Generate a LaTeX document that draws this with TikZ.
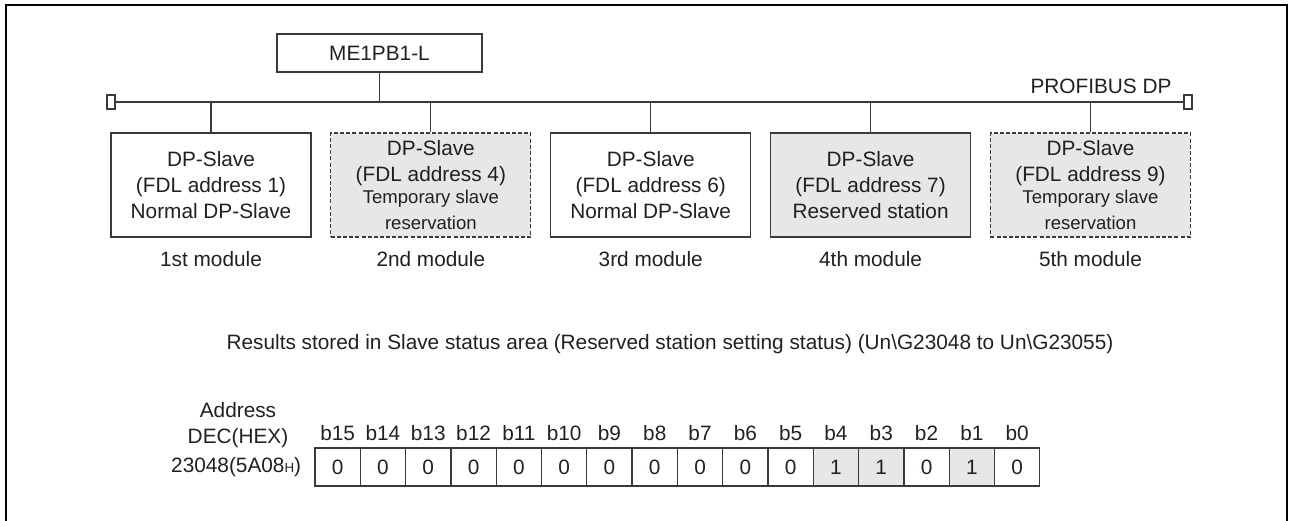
\documentclass[tikz,border=0pt]{standalone}
\usepackage{fontspec}
\setmainfont{Liberation Sans}
\usetikzlibrary{positioning}
\definecolor{ink}{HTML}{231F20}
\definecolor{wirecol}{HTML}{3A3A3A}
\definecolor{shade}{HTML}{E6E7E8}
\newcommand{\smallfont}{\fontsize{13.9}{16.5}\selectfont}

\begin{document}
\begin{tikzpicture}[
    x=0.75pt, y=-0.75pt,
    every node/.style={text=ink, font=\fontsize{15.6}{19.5}\selectfont},
    master/.style={rectangle, draw=wirecol, line width=0.9pt, minimum width=153.75pt, minimum height=28.5pt},
    slave/.style={rectangle, draw=wirecol, line width=0.9pt, minimum width=150pt, minimum height=78pt, align=center, inner sep=0pt},
    reserved/.style={slave, fill=shade},
    temporary/.style={slave, fill=shade, dash pattern=on 3pt off 1.6pt},
    term/.style={rectangle, draw=wirecol, line width=0.8pt, minimum width=6pt, minimum height=10.5pt, inner sep=0pt},
    link/.style={draw=wirecol, line width=0.9pt},
    lbl/.style={inner sep=0pt},
    bitcell/.style={rectangle, draw=wirecol, line width=0.9pt, minimum width=34pt, minimum height=28.5pt, inner sep=0pt},
    setbit/.style={bitcell, fill=shade}
]
\useasboundingbox (0,0) rectangle (1292,521);
% frame
\draw[line width=1.9pt] (6,521) -- (6,5) -- (1287,5) -- (1287,521);

% network
\node[master] (me) at (379.5,53) {ME1PB1-L};
\node[term] (termL) at (111,102) {};
\node[term] (termR) at (1188,102) {};
\draw[link] (termL.east) -- (termR.west);
\draw[link] (me.south) -- (me.south |- termL.center);
\node[lbl] (busname) at (1101,86) {PROFIBUS DP};

% slaves
\node[slave] (mod1) at (211,185) {DP-Slave\\(FDL address 1)\\Normal DP-Slave};
\node[temporary, right=14pt of mod1] (mod2) {DP-Slave\\(FDL address 4)\\[-3pt]{\smallfont Temporary slave}\\{\smallfont reservation}};
\node[slave, right=14pt of mod2] (mod3) {DP-Slave\\(FDL address 6)\\Normal DP-Slave};
\node[reserved, right=14pt of mod3] (mod4) {DP-Slave\\(FDL address 7)\\Reserved station};
\node[temporary, right=14pt of mod4] (mod5) {DP-Slave\\(FDL address 9)\\[-3pt]{\smallfont Temporary slave}\\{\smallfont reservation}};
\foreach \i in {1,...,5}
  \draw[link] (mod\i.north) -- (mod\i.north |- termL.center);

\node[lbl] (lbl1) at ([yshift=-15.75pt]mod1.south) {1st module};
\node[lbl] (lbl2) at ([yshift=-15.75pt]mod2.south) {2nd module};
\node[lbl] (lbl3) at ([yshift=-15.75pt]mod3.south) {3rd module};
\node[lbl] (lbl4) at ([yshift=-15.75pt]mod4.south) {4th module};
\node[lbl] (lbl5) at ([yshift=-15.75pt]mod5.south) {5th module};

% slave status area
\node[lbl] (result) at (670,344) {Results stored in Slave status area (Reserved station setting status) (Un\textbackslash G23048 to Un\textbackslash G23055)};

\foreach \v [count=\i from 0] in {0,0,0,0,0,0,0,0,0,0,0,1,1,0,1,0} {
  \pgfmathtruncatemacro{\b}{15-\i}
  \ifnum\v=1
    \node[setbit] (cell\i) at (337.65+45.3*\i,467) {\v};
  \else
    \node[bitcell] (cell\i) at (337.65+45.3*\i,467) {\v};
  \fi
  \node[lbl] (bit\i) at ([yshift=25.5pt]cell\i.center) {b\b};
}
\node[lbl, align=center] (addr) at (238,425) {Address\\DEC(HEX)};
\node[lbl, left=9.75pt of cell0] (word) {23048(5A08{\fontsize{10}{10}\selectfont H})};
\end{tikzpicture}
\end{document}
